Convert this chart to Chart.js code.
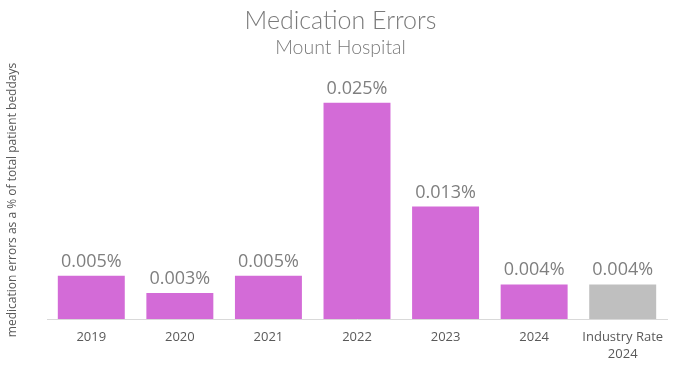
<!DOCTYPE html>
<html>
<head>
<meta charset="utf-8">
<script src="https://cdn.jsdelivr.net/npm/chart.js@4/dist/chart.umd.min.js"></script>
<style>
  html, body { margin: 0; padding: 0; background: #fff; }
  #wrap { width: 681px; height: 373px; }
</style>
</head>
<body>
<div id="wrap"><canvas id="myChart" width="681" height="373"></canvas></div>
<script>
// MEDICATION ERRORS chart
const categories = ['2019', '2020', '2021', '2022', '2023', '2024', ['Industry Rate', '2024']];
const errorRates = [0.005, 0.003, 0.005, 0.025, 0.013, 0.004, 0.004]; // percent of beddays
const valueLabels = ['0.005%', '0.003%', '0.005%', '0.025%', '0.013%', '0.004%', '0.004%'];
const yAxisTitle = 'medication errors as a % of total patient beddays';

const hospitalColor = '#d36bd7';
const industryColor = '#bfbfbf';
const barColors = categories.map((c, i) => i === categories.length - 1 ? industryColor : hospitalColor);

// value text above each bar + the rotated y axis title
const valueLabelPlugin = {
  id: 'valueLabels',
  afterDatasetsDraw(chart) {
    const ctx = chart.ctx;
    const meta = chart.getDatasetMeta(0);
    ctx.save();
    ctx.font = '18px "Open Sans"';
    ctx.fillStyle = '#7f7f7f';
    ctx.textAlign = 'center';
    ctx.textBaseline = 'alphabetic';
    meta.data.forEach((bar, i) => {
      ctx.fillText(valueLabels[i], bar.x, bar.y - 9);
    });
    ctx.restore();

    ctx.save();
    ctx.translate(13, 200);
    ctx.rotate(-Math.PI / 2);
    ctx.font = '12px "Open Sans"';
    ctx.fillStyle = '#595959';
    ctx.textAlign = 'center';
    ctx.textBaseline = 'middle';
    ctx.fillText(yAxisTitle, 0, 0);
    ctx.restore();
  }
};

const chartCtx = document.getElementById('myChart').getContext('2d');

const myChart = new Chart(chartCtx, {
  type: 'bar',
  data: {
    labels: categories,
    datasets: [{
      data: errorRates,
      backgroundColor: barColors,
      barPercentage: 0.756,
      categoryPercentage: 1.0
    }]
  },
  options: {
    responsive: false,
    animation: false,
    layout: { padding: { top: 3, right: 14, left: 14, bottom: 0 } },
    plugins: {
      legend: { display: false },
      tooltip: { enabled: false },
      title: {
        display: true,
        text: 'Medication Errors',
        color: '#7a7a7a',
        font: { family: 'Lato', size: 25, weight: '300' },
        padding: { top: 3, bottom: 0 }
      },
      subtitle: {
        display: true,
        text: 'Mount Hospital',
        color: '#7a7a7a',
        font: { family: 'Lato', size: 19.5, weight: '300' },
        padding: { top: 0, bottom: 0 }
      }
    },
    scales: {
      x: {
        grid: { display: false, drawTicks: false },
        border: { display: true, color: '#d9d9d9', width: 1 },
        ticks: {
          color: '#595959',
          font: { family: 'Open Sans', size: 13, lineHeight: 1.3 },
          padding: 10,
          maxRotation: 0,
          autoSkip: false
        },
        afterFit(scale) { scale.height = 54; }
      },
      y: {
        min: 0,
        max: 0.03,
        grid: { display: false },
        border: { display: false },
        ticks: { display: false },
        afterFit(scale) { scale.width = 33; }
      }
    }
  },
  plugins: [valueLabelPlugin]
});
</script>
</body>
</html>
